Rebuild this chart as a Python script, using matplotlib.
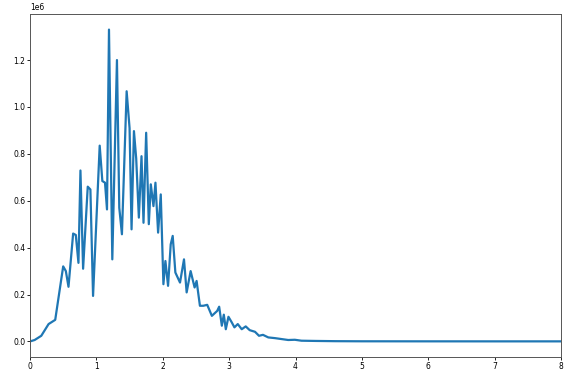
import matplotlib
matplotlib.use("Agg")
import matplotlib.pyplot as plt
import numpy as np

# values (y in millions)
x_vals = [
    0.00, 0.07, 0.17, 0.28, 0.38, 0.50, 0.54, 0.58, 0.65, 0.69, 0.73, 0.76,
    0.80, 0.87, 0.91, 0.95, 1.05, 1.09, 1.13, 1.16, 1.19, 1.24, 1.31, 1.345,
    1.385, 1.456, 1.50, 1.53, 1.566, 1.60, 1.64, 1.68, 1.71, 1.75, 1.79, 1.82,
    1.86, 1.89, 1.93, 1.97, 2.01, 2.04, 2.08, 2.12, 2.15, 2.19, 2.26, 2.32,
    2.36, 2.42, 2.48, 2.51, 2.56, 2.61, 2.67, 2.74, 2.82, 2.85, 2.89, 2.92,
    2.95, 2.99, 3.04, 3.08, 3.13, 3.19, 3.25, 3.31, 3.39, 3.45, 3.51, 3.59,
    3.69, 3.79, 3.89, 3.99, 4.09, 4.30, 4.60, 5.00, 6.00, 7.00, 8.00,
]
y_millions = [
    0.000, 0.006, 0.024, 0.074, 0.092, 0.320, 0.300, 0.233, 0.460, 0.454, 0.335, 0.729,
    0.310, 0.660, 0.648, 0.194, 0.835, 0.684, 0.677, 0.563, 1.330, 0.350, 1.200, 0.570,
    0.457, 1.067, 0.910, 0.478, 0.897, 0.780, 0.528, 0.790, 0.506, 0.890, 0.500, 0.670,
    0.577, 0.677, 0.464, 0.627, 0.244, 0.343, 0.237, 0.414, 0.450, 0.294, 0.251, 0.350,
    0.209, 0.300, 0.230, 0.258, 0.152, 0.152, 0.156, 0.109, 0.130, 0.148, 0.067, 0.114,
    0.052, 0.105, 0.081, 0.060, 0.074, 0.052, 0.064, 0.048, 0.041, 0.024, 0.028, 0.017,
    0.014, 0.010, 0.006, 0.007, 0.003, 0.002, 0.001, 0.0005, 0.0003, 0.0002, 0.0002,
]

y_vals = np.array(y_millions) * 1e6

fig = plt.figure(figsize=(5.67, 3.71), dpi=100)
ax = fig.add_axes([30 / 567, 1 - 357 / 371, 531 / 567, 343 / 371])

ax.plot(x_vals, y_vals, color="#1f77b4", linewidth=1.6)
ax.set_xlim(0, 8)

ax.tick_params(labelsize=5.5, length=2, width=0.6, pad=1.5)
ax.yaxis.get_offset_text().set_fontsize(5.5)
for spine in ax.spines.values():
    spine.set_linewidth(0.7)
    spine.set_color("#555555")

fig.savefig("out.png", dpi=100, facecolor="white")
